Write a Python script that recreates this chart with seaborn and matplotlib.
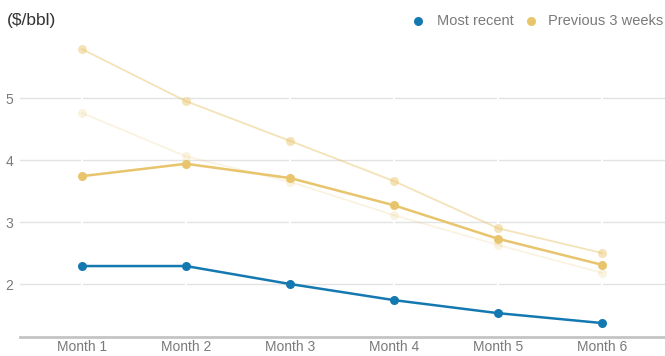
import matplotlib
matplotlib.use("Agg")
import matplotlib.pyplot as plt
import seaborn as sns
import pandas as pd
import numpy as np

months = ["Month 1", "Month 2", "Month 3", "Month 4", "Month 5", "Month 6"]
most_recent = [2.29, 2.29, 2.00, 1.74, 1.53, 1.37]
prev_week_1 = [3.74, 3.94, 3.71, 3.27, 2.73, 2.31]
prev_week_2 = [5.79, 4.95, 4.31, 3.66, 2.90, 2.50]
prev_week_3 = [4.76, 4.06, 3.65, 3.11, 2.63, 2.18]
y_ticks = [2, 3, 4, 5]

BLUE = "#1479b0"
GOLD = "#e8c46c"

sns.set_theme(style="white")
plt.rcParams["font.family"] = ["Liberation Sans", "DejaVu Sans"]

fig = plt.figure(figsize=(6.65, 3.56), dpi=100)
ax = fig.add_axes([20 / 665, (356 - 337) / 356, 645 / 665, (337 - 20) / 356])

pos = np.arange(len(months))

series = [
    (prev_week_3, GOLD, 0.2, 1.3),
    (prev_week_2, GOLD, 0.48, 1.3),
    (prev_week_1, GOLD, 1.0, 1.8),
    (most_recent, BLUE, 1.0, 1.8),
]
for vals, color, alpha, lw in series:
    df = pd.DataFrame({"pos": pos, "value": vals})
    sns.lineplot(data=df, x="pos", y="value", ax=ax, color=color, alpha=alpha,
                 linewidth=lw, marker="o", markersize=6.5, markeredgewidth=0,
                 zorder=3)

ax.set_xlim(-0.596, 5.606)
ax.set_ylim(1.145, 6.26)
ax.set_xticks(pos)
ax.set_xticklabels(months)
ax.set_yticks(y_ticks)
ax.set_yticklabels([str(t) for t in y_ticks])
ax.set_xlabel("")
ax.set_ylabel("")

ax.grid(axis="y", color="#e3e3e3", linewidth=1.0, zorder=0)
for p in pos:
    ax.axvline(p, color="white", linewidth=1.5, zorder=1)

for side in ["top", "right", "left"]:
    ax.spines[side].set_visible(False)
ax.spines["bottom"].set_color("#c4c4c4")
ax.spines["bottom"].set_linewidth(2)

ax.tick_params(axis="both", length=0, labelsize=10, labelcolor="#7a7a7a")
ax.tick_params(axis="x", pad=2.5)
ax.tick_params(axis="y", pad=5)

fig.text(7 / 665, 1 - 21 / 356, "($/bbl)", fontsize=12.5, color="#333333",
         va="center", ha="left")

# legend
fig.lines.append(plt.Line2D([418 / 665], [1 - 21 / 356], marker="o", color=BLUE,
                            markersize=6.5, markeredgewidth=0, transform=fig.transFigure))
fig.text(437 / 665, 1 - 21 / 356, "Most recent", fontsize=10.5, color="#7a7a7a",
         va="center", ha="left")
fig.lines.append(plt.Line2D([531 / 665], [1 - 21 / 356], marker="o", color=GOLD,
                            markersize=6.5, markeredgewidth=0, transform=fig.transFigure))
fig.text(548 / 665, 1 - 21 / 356, "Previous 3 weeks", fontsize=10.5, color="#7a7a7a",
         va="center", ha="left")

fig.savefig("out.png", dpi=100)
